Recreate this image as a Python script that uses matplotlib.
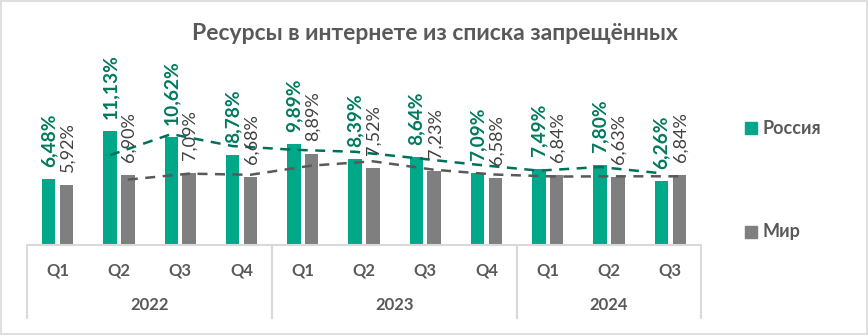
import numpy as np
import matplotlib
matplotlib.use("Agg")
import matplotlib.pyplot as plt
import matplotlib.transforms as mtransforms
from matplotlib.patches import Rectangle

# data
years = ["2022", "2023", "2024"]
quarters = ["Q1", "Q2", "Q3", "Q4", "Q1", "Q2", "Q3", "Q4", "Q1", "Q2", "Q3"]
year_spans = [(0, 3), (4, 7), (8, 10)]
russia = [6.48, 11.13, 10.62, 8.78, 9.89, 8.39, 8.64, 7.09, 7.49, 7.80, 6.26]
world = [5.92, 6.90, 7.09, 6.68, 8.89, 7.52, 7.23, 6.58, 6.84, 6.63, 6.84]

TITLE = "Ресурсы в интернете из списка запрещённых"
C_RU = "#00A88A"
C_RU_TXT = "#007A5E"
C_RU_TREND = "#00705A"
C_W = "#7F7F7F"
C_W_TXT = "#404040"
C_W_TREND = "#595959"
C_GRID = "#D9D9D9"
C_TXT = "#595959"

plt.rcParams["font.family"] = ["Lato", "DejaVu Sans"]

W, H = 868, 336
fig = plt.figure(figsize=(W / 100, H / 100), dpi=100)

def fx(px):
    return px / W

def fy(py):
    return 1 - py / H

# plot area: baseline at y=245 px, ~10.2 px per percentage point
ax = fig.add_axes([fx(27), fy(245), fx(701) - fx(27), (245 - 41) / H])
ax.set_xlim(-0.5, len(quarters) - 0.5)
ax.set_ylim(0, 20)
ax.axis("off")

x = np.arange(len(quarters))
bw = 0.22
off = 0.145
ax.bar(x - off, russia, bw, color=C_RU, zorder=2)
ax.bar(x + off, world, bw, color=C_W, zorder=2)

# data labels
for xi, v in zip(x, russia):
    ax.annotate(f"{v:.2f}%".replace(".", ","), (xi - off, v), xytext=(0, 12),
                textcoords="offset pixels", rotation=90, ha="center", va="bottom",
                fontsize=13.8, fontweight="bold", color=C_RU_TXT, zorder=4)
for xi, v in zip(x, world):
    ax.annotate(f"{v:.2f}%".replace(".", ","), (xi + off, v), xytext=(1, 13),
                textcoords="offset pixels", rotation=90, ha="center", va="bottom",
                fontsize=13, color=C_W_TXT, zorder=4)

# 2-period moving average trendlines
ru_ma = np.convolve(russia, [0.5, 0.5], mode="valid")
w_ma = np.convolve(world, [0.5, 0.5], mode="valid")
ax.plot(x[1:] - off, ru_ma, color=C_RU_TREND, lw=1.8, ls=(0, (4, 3)), zorder=3)
ax.plot(x[1:] + off, w_ma, color=C_W_TREND, lw=1.8, ls=(0, (4, 3)), zorder=3)

# category axis
tr = mtransforms.blended_transform_factory(ax.transData, fig.transFigure)
x0, x1 = -0.5, len(quarters) - 0.5
ax.plot([x0, x1], [fy(245), fy(245)], transform=tr, color=C_GRID, lw=1.5,
        clip_on=False, solid_capstyle="butt")
for a, b in year_spans:
    for edge in (a - 0.5, b + 0.5):
        ax.plot([edge, edge], [fy(245), fy(318)], transform=tr, color=C_GRID,
                lw=1.5, clip_on=False)
for xi, q in zip(x, quarters):
    ax.text(xi, fy(270), q, transform=tr, ha="center", va="center",
            fontsize=12, fontweight="bold", color=C_TXT)
for (a, b), y in zip(year_spans, years):
    ax.text((a + b) / 2, fy(305), y, transform=tr, ha="center", va="center",
            fontsize=12, fontweight="bold", color=C_TXT)

# title
fig.text(fx(435), fy(33), TITLE, ha="center", va="center", fontsize=16.5,
         fontweight="bold", color=C_TXT)

# legend
for label, col, py in [("Россия", C_RU, 128), ("Мир", C_W, 232)]:
    fig.patches.append(Rectangle((fx(745), fy(py + 6)), fx(12), 12 / H,
                                 transform=fig.transFigure, color=col))
    fig.text(fx(762), fy(py), label, ha="left", va="center", fontsize=13,
             fontweight="bold", color=C_TXT)

# chart border
fig.patches.append(Rectangle((fx(1), fy(334)), fx(866), 333 / H, transform=fig.transFigure,
                             fill=False, edgecolor=C_GRID, lw=1.2))

fig.savefig("out.png", dpi=100)
